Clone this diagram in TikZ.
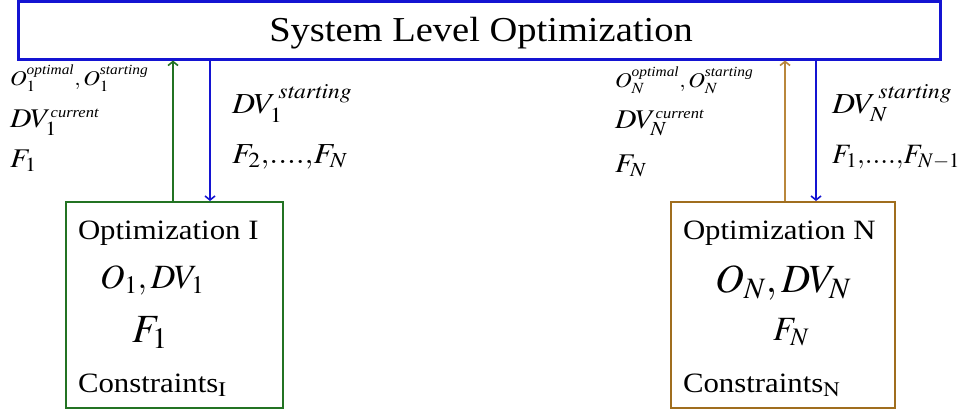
\documentclass[tikz,border=0pt]{standalone}
\usepackage{mathptmx}
\usepackage{fontspec}
\setmainfont{Liberation Serif}
\usepackage{graphicx}
\usetikzlibrary{arrows.meta}
\definecolor{sysblue}{RGB}{20,20,210}
\definecolor{optgreen}{RGB}{35,115,35}
\definecolor{optbrown}{RGB}{160,110,30}
\definecolor{arrbrown}{RGB}{185,135,60}
\newcommand\stx[1]{\scalebox{1.1}[1]{#1}}
\newcommand\fsz[1]{\fontsize{#1}{#1}\selectfont}
\newcommand\sups[2]{\mbox{\fsz{#1}\textit{#2}}}
\begin{document}
\begin{tikzpicture}[x=1pt,y=-1pt,
  lbl/.style={anchor=base west, inner sep=0pt, outer sep=0pt},
  ctr/.style={anchor=base, inner sep=0pt, outer sep=0pt},
  sysbox/.style={draw=sysblue, line width=3pt, minimum width=922pt, minimum height=58pt, inner sep=0pt},
  optbox/.style={line width=2pt, minimum height=206pt, inner sep=0pt},
  arr/.style={line width=1.6pt, -{Straight Barb[length=4pt,width=10pt,line width=1.6pt]}}]
\useasboundingbox (0,0) rectangle (964,413);
% boxes
\node[sysbox] (top) at (479,30) {};
\node[optbox, draw=optgreen, minimum width=217pt] (b1) at (174.5,305) {};
\node[optbox, draw=optbrown, minimum width=224pt] (bN) at (783,305) {};
% title
\node[ctr] (title) at (481,41) {\stx{\fsz{35}System Level Optimization}};
% arrows
\draw[arr, optgreen] (b1.north -| 173,0) -- (top.south -| 173,0);
\draw[arr, sysblue] (top.south -| 210,0) -- (b1.north -| 210,0);
\draw[arr, arrbrown] (bN.north -| 785,0) -- (top.south -| 785,0);
\draw[arr, sysblue] (top.south -| 816,0) -- (bN.north -| 816,0);
% left labels
\node[lbl] (l1a) at (10,85) {\stx{\fsz{21}$O_1^{\sups{14}{optimal}},O_1^{\sups{14}{starting}}$}};
\node[lbl] (l1b) at (10,127) {\stx{\fsz{27}$DV_1^{\sups{15}{current}}$}};
\node[lbl] (l1c) at (10,167) {\stx{\fsz{27}$F_1$}};
\node[lbl] (r1a) at (232,113) {\stx{\fsz{29}$DV_1^{\,\mathit{starting}}$}};
\node[lbl] (r1b) at (232,163) {\stx{\fsz{29}$F_2{,}{.}{.}{.}{.}{,}F_N$}};
% right labels
\node[lbl] (lNa) at (615,87) {\stx{\fsz{21}$O_N^{\sups{14}{optimal}},O_N^{\sups{14}{starting}}$}};
\node[lbl] (lNb) at (615,128) {\stx{\fsz{27}$DV_N^{\sups{15}{current}}$}};
\node[lbl] (lNc) at (615,172) {\stx{\fsz{27}$F_N$}};
\node[lbl] (rNa) at (832,113) {\stx{\fsz{29}$DV_N^{\,\mathit{starting}}$}};
\node[lbl] (rNb) at (832,163) {\fsz{28}$F_1{,}{.}{.}{.}{.}{,}F_{N{-}1}$};
% box 1 contents
\node[lbl] (o1t) at (78,239) {\stx{\fsz{28}Optimization I}};
\node[lbl] (o1m) at (100,288) {\fsz{34}$O_1, DV_1$};
\node[lbl] (o1f) at (132,342) {\fsz{40}$F_1$};
\node[lbl] (o1c) at (78,392) {\stx{\fsz{28}Constraints$_{\mathrm{I}}$}};
% box N contents
\node[lbl] (oNt) at (683,239) {\stx{\fsz{28}Optimization N}};
\node[lbl] (oNm) at (715,292) {\fsz{40}$O_N, DV_N$};
\node[lbl] (oNf) at (773,340) {\fsz{34}$F_N$};
\node[lbl] (oNc) at (683,392) {\stx{\fsz{28}Constraints$_{\mathrm{N}}$}};
\end{tikzpicture}
\end{document}
